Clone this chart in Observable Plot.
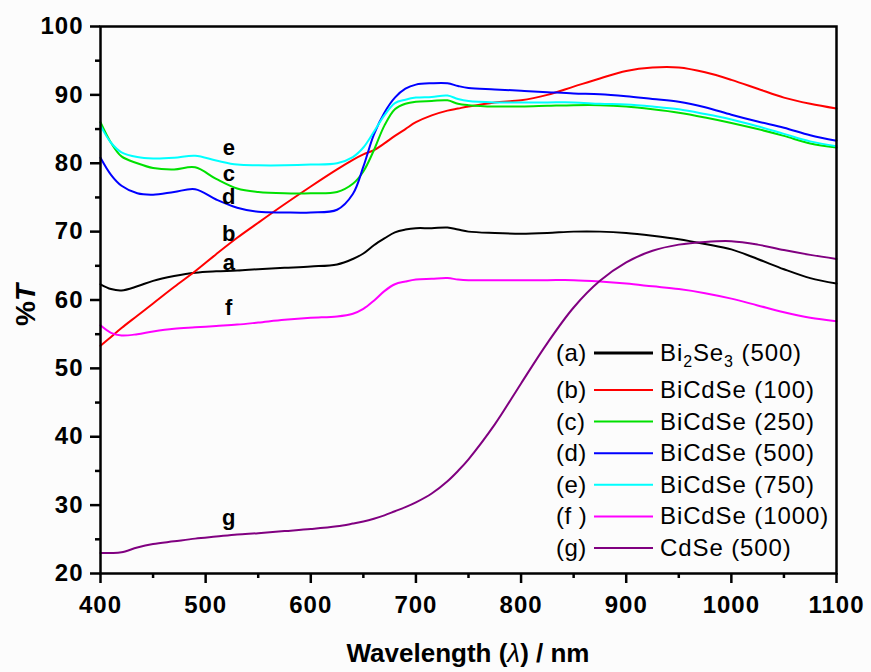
<!DOCTYPE html>
<html><head><meta charset="utf-8">
<script src="https://cdn.jsdelivr.net/npm/d3@7"></script>
<script src="https://cdn.jsdelivr.net/npm/@observablehq/plot@0.6"></script>
<style>
html,body{margin:0;padding:0;background:#fcfcfc;}
#chart{position:relative;width:871px;height:672px;}
</style></head><body><div id="chart"></div>
<script>
// ---- data ----
const wavelength = [400,410,420,435,450,470,490,510,530,550,575,600,625,640,650,660,670,680,690,700,715,730,740,750,775,800,825,850,875,900,925,950,975,1000,1025,1050,1075,1100];
const seriesA = [62.3,61.6,61.4,62.0,62.8,63.5,64.0,64.2,64.3,64.5,64.7,64.9,65.2,66.0,66.8,68.0,69.0,69.9,70.3,70.5,70.5,70.6,70.3,70.0,69.8,69.7,69.8,70.0,70.0,69.8,69.4,68.9,68.2,67.4,66.0,64.5,63.2,62.4];
const seriesB = [53.3,54.6,55.9,57.7,59.5,61.9,64.2,66.7,69.1,71.3,74.0,76.6,79.1,80.5,81.3,81.9,82.9,84.0,85.0,86.0,87.0,87.7,88.0,88.3,88.9,89.2,90.0,91.2,92.4,93.5,94.0,94.0,93.3,92.2,90.9,89.6,88.7,88.0];
const seriesC = [86.0,83.0,81.0,80.0,79.3,79.1,79.4,77.7,76.3,75.8,75.6,75.6,75.8,77.0,78.8,81.9,85.5,87.9,88.7,89.0,89.1,89.2,88.7,88.5,88.3,88.3,88.4,88.5,88.5,88.3,87.9,87.4,86.7,85.9,85.0,84.0,82.9,82.3];
const seriesD = [80.8,78.3,76.7,75.6,75.4,75.8,76.2,74.7,73.5,72.9,72.8,72.8,73.2,75.5,79.5,84.2,87.4,89.6,90.9,91.5,91.7,91.7,91.3,91.0,90.8,90.6,90.4,90.2,90.1,89.8,89.4,89.0,88.2,87.1,86.1,85.2,84.1,83.3];
const seriesE = [85.5,83.0,81.6,80.9,80.7,80.8,81.1,80.4,79.8,79.7,79.7,79.8,80.0,80.9,82.3,84.6,87.0,88.8,89.3,89.6,89.7,89.9,89.4,89.1,88.9,88.9,88.9,88.9,88.7,88.6,88.3,87.9,87.2,86.4,85.4,84.3,83.2,82.5];
const seriesF = [56.3,55.2,54.8,55.0,55.4,55.8,56.0,56.2,56.4,56.7,57.1,57.4,57.6,58.0,58.7,59.9,61.3,62.3,62.7,63.0,63.1,63.2,63.0,62.9,62.9,62.9,62.9,62.9,62.7,62.4,62.0,61.6,61.0,60.2,59.2,58.2,57.4,56.9];
const seriesG = [23.0,23.0,23.1,23.8,24.3,24.7,25.1,25.4,25.7,25.9,26.2,26.5,26.9,27.3,27.6,28.0,28.5,29.1,29.7,30.4,31.7,33.5,35.0,36.7,41.8,47.8,53.7,58.9,62.8,65.5,67.2,68.1,68.5,68.6,68.1,67.3,66.6,66.0];

const seriesKeys = ["a","b","c","d","e","f","g"];
const seriesTags = ["(a)","(b)","(c)","(d)","(e)","(f )","(g)"];
const seriesNames = ["Bi_2Se_3 (500)","BiCdSe (100)","BiCdSe (250)","BiCdSe (500)","BiCdSe (750)","BiCdSe (1000)","CdSe (500)"];
const seriesColors = ["#000000","#ff0000","#00e000","#0000ff","#00ffff","#ff00ff","#800080"];
const seriesValues = [seriesA,seriesB,seriesC,seriesD,seriesE,seriesF,seriesG];

// curve annotation letters (data coords)
const labelText = ["e","c","d","b","a","f","g"];
const labelX = [522,522,522,522,522,522,522];
const labelY = [82.2,78.5,75.0,69.7,65.4,58.9,28.1];

const xTicks = [400,500,600,700,800,900,1000,1100];
const xMinor = [450,550,650,750,850,950,1050];
const yTicks = [20,30,40,50,60,70,80,90,100];
const yMinor = [25,35,45,55,65,75,85,95];

// ---- build ----
const rows = [];
seriesKeys.forEach((k,i)=>wavelength.forEach((w,j)=>rows.push({key:k,w,t:seriesValues[i][j],color:seriesColors[i]})));
const labels = labelText.map((t,i)=>({t,x:labelX[i],y:labelY[i]}));

const font = "'Liberation Sans', Arial, Helvetica, sans-serif";
const plot = Plot.plot({
  width:871, height:672,
  marginLeft:100, marginRight:35, marginTop:26, marginBottom:99,
  x:{domain:[400,1100]}, y:{domain:[20,100]},
  style:{fontFamily:font, background:"transparent", color:"#000", overflow:"visible"},
  marks:[
    Plot.line(rows,{x:"w",y:"t",z:"key",stroke:"color",strokeWidth:2,curve:"catmull-rom"}),
    Plot.axisX({ticks:xTicks, tickFormat:d=>String(d), tickSize:10, tickPadding:12, strokeWidth:2.5, label:null, fontSize:24, fontWeight:"bold"}),
    Plot.axisX({ticks:xMinor, tickSize:5, text:null, label:null, strokeWidth:2.5}),
    Plot.axisY({ticks:yTicks, tickFormat:d=>String(d), tickSize:10, tickPadding:7, strokeWidth:2.5, label:null, fontSize:24, fontWeight:"bold"}),
    Plot.axisY({ticks:yMinor, tickSize:5, text:null, label:null, strokeWidth:2.5}),
    Plot.frame({strokeWidth:2.5}),
    Plot.text(labels,{x:"x",y:"y",text:"t",fontSize:22,fontWeight:"bold"})
  ]
});
document.getElementById("chart").appendChild(plot);
const svg = d3.select(plot);
svg.selectAll('g[aria-label="x-axis tick label"] text, g[aria-label="y-axis tick label"] text').attr("letter-spacing","1px");

// axis titles
const xt = svg.append("text").attr("x",468).attr("y",662).attr("text-anchor","middle")
  .attr("font-size",26).attr("font-weight","bold").attr("font-family",font).attr("fill","#000");
xt.append("tspan").text("Wavelength (");
xt.append("tspan").attr("font-style","italic").attr("font-weight","normal").text("λ");
xt.append("tspan").text(") / nm");

const yt = svg.append("text").attr("transform","translate(35,305) rotate(-90)").attr("text-anchor","middle")
  .attr("font-size",28).attr("font-weight","bold").attr("font-family",font).attr("fill","#000");
yt.append("tspan").text("%");
yt.append("tspan").attr("font-style","italic").text("T");

// legend
const lg = svg.append("g").attr("font-family",font).attr("font-size",24).attr("fill","#000").attr("text-anchor","start");
seriesKeys.forEach((k,i)=>{
  const cy = i===0 ? 353 : 390 + (i-1)*31.6;
  lg.append("text").attr("x",556).attr("y",cy+8).attr("text-anchor","start").attr("letter-spacing","0.5px").text(seriesTags[i]);
  lg.append("line").attr("x1",594).attr("x2",653).attr("y1",cy).attr("y2",cy)
    .attr("stroke",seriesColors[i]).attr("stroke-width",i===0?3:2);
  const t = lg.append("text").attr("x",660).attr("y",cy+8).attr("text-anchor","start").attr("letter-spacing","0.9px");
  let shifted = false;
  seriesNames[i].split(/(_\d)/).forEach(part=>{
    if(!part) return;
    if(part.startsWith("_")) {
      t.append("tspan").attr("font-size",16).attr("dy",6).text(part.slice(1));
      shifted = true;
    } else {
      const s = t.append("tspan").text(part);
      if(shifted){ s.attr("dy",-6); shifted=false; }
    }
  });
});
</script></body></html>
